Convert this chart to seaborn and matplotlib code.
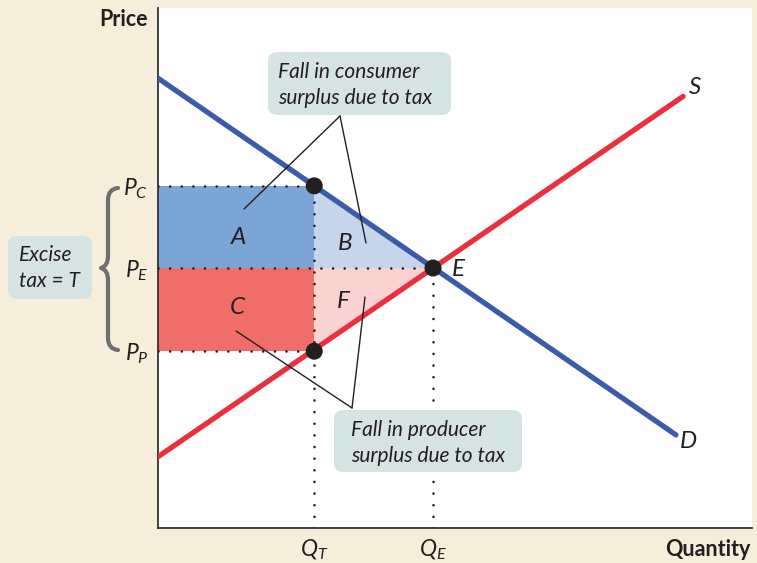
import numpy as np
import pandas as pd
import matplotlib
matplotlib.use("Agg")
import matplotlib.pyplot as plt
import seaborn as sns
from matplotlib.patches import FancyBboxPatch, PathPatch
from matplotlib.path import Path

# ---- data (economic units) ----
demand_q = [0.0, 87.2]
demand_p = [86.5, 17.9]
supply_q = [0.0, 88.4]
supply_p = [13.7, 83.0]
Q_T = 26.3
Q_E = 46.3
P_C = 65.8
P_E = 50.0
P_P = 34.0
area_labels = ["A", "B", "C", "F"]
price_ticks = [P_C, P_E, P_P]
price_labels = [r"$P_C$", r"$P_E$", r"$P_P$"]
qty_ticks = [Q_T, Q_E]
qty_labels = [r"$Q_T$", r"$Q_E$"]

sns.set_theme(style="white")
plt.rcParams["font.family"] = ["Lato", "DejaVu Sans"]
plt.rcParams["mathtext.fontset"] = "custom"
plt.rcParams["mathtext.it"] = "Lato:italic"
plt.rcParams["mathtext.rm"] = "Lato"

BEIGE = "#f6eddb"
BLUE = "#3b5ca9"
RED = "#ec2f3f"
TXT = "#231f20"
BOX = "#d5e4e2"

W, H = 757, 563
fig = plt.figure(figsize=(W / 100, H / 100), dpi=100, facecolor=BEIGE)
ax = fig.add_axes([158 / W, (H - 528) / H, 594 / W, 520 / H])
ax.set_facecolor("white")
ax.set_xlim(0, 100)
ax.set_ylim(0, 100)

def px(x, y):
    return (x / W, 1 - y / H)

# ---- areas ----
ax.fill_between([0, Q_T], P_E, P_C, color="#7ba4d7", lw=0, zorder=1)
ax.fill_between([0, Q_T], P_P, P_E, color="#f06e6a", lw=0, zorder=1)
ax.fill([Q_T, Q_T, Q_E], [P_C, P_E, P_E], color="#c6d4ec", lw=0, zorder=1)
ax.fill([Q_T, Q_T, Q_E], [P_P, P_E, P_E], color="#fad2d2", lw=0, zorder=1)

# ---- dotted guides ----
dot = dict(color=TXT, lw=1.9, ls=(0, (0.01, 4.4)), dash_capstyle="round",
           solid_capstyle="round", zorder=3)
ax.plot([0, Q_T], [P_C, P_C], **dot)
ax.plot([0, Q_T], [P_P, P_P], **dot)
ax.plot([0, Q_E], [P_E, P_E], **dot)
ax.plot([Q_T, Q_T], [0, P_C], **dot)
ax.plot([Q_E, Q_E], [0, P_E], **dot)

# ---- curves ----
sns.lineplot(x=demand_q, y=demand_p, color=BLUE, lw=3.8, ax=ax, zorder=4)
sns.lineplot(x=supply_q, y=supply_p, color=RED, lw=3.8, ax=ax, zorder=4)
pts = pd.DataFrame({"q": [Q_T, Q_T, Q_E], "p": [P_C, P_P, P_E]})
sns.scatterplot(data=pts, x="q", y="p", s=150, color=TXT, edgecolor="none", ax=ax, zorder=6)

# ---- spines/ticks ----
for s in ["top", "right"]:
    ax.spines[s].set_visible(False)
for s in ["left", "bottom"]:
    ax.spines[s].set_color("#333333")
    ax.spines[s].set_linewidth(1.3)
ax.set_xticks(qty_ticks)
ax.set_xticklabels(qty_labels, fontsize=16.5, color=TXT)
ax.set_yticks(price_ticks)
ax.set_yticklabels(price_labels, fontsize=16.5, color=TXT)
ax.tick_params(axis="y", length=0, pad=7)
ax.tick_params(axis="x", length=0, pad=7)
for t in ax.get_yticklabels():
    t.set_va("center_baseline")
ax.set_xlabel("")
ax.set_ylabel("")

fig.text(*px(148, 19), "Price", ha="right", va="center", fontsize=15.5, fontweight="bold", color=TXT)
fig.text(*px(751, 549), "Quantity", ha="right", va="center", fontsize=15.5, fontweight="bold", color=TXT)

# ---- curve labels ----
it = dict(fontstyle="italic", color=TXT, fontsize=17.5, va="center", ha="center")
fig.text(*px(695, 87), "S", **it)
fig.text(*px(688, 442), "D", **it)
fig.text(*px(458, 269), "E", **it)
for lab, (x, y) in zip(area_labels, [(238, 237), (345, 243), (237, 308), (343, 301)]):
    fig.text(*px(x, y), lab, **it)

# ---- callout boxes ----
def box(x0, y0, x1, y1):
    (fx0, fy1) = px(x0, y0)
    (fx1, fy0) = px(x1, y1)
    p = FancyBboxPatch((fx0, fy0), fx1 - fx0, fy1 - fy0,
                       boxstyle="round,pad=0,rounding_size=0.014",
                       transform=fig.transFigure, fc=BOX, ec="none", zorder=7)
    fig.add_artist(p)

cs = dict(fontstyle="italic", fontsize=15, color=TXT, va="center", ha="left", zorder=8)
box(268, 52, 451, 115)
fig.text(*px(278, 72), "Fall in consumer", **cs)
fig.text(*px(278, 98), "surplus due to tax", **cs)

box(334, 410, 522, 472)
fig.text(*px(351, 430), "Fall in producer", **cs)
fig.text(*px(351, 456), "surplus due to tax", **cs)

box(8, 236, 92, 299)
fig.text(*px(19, 255), "Excise", **cs)
fig.text(*px(19, 281), "tax = T", **cs)

# pointer lines
pl = dict(color=TXT, lw=1.0, transform=fig.transFigure, zorder=5)
for (a, b) in [((340, 116), (244, 209)), ((340, 116), (366, 243)),
               ((352, 408), (236, 331)), ((352, 408), (365, 297))]:
    (xa, ya), (xb, yb) = px(*a), px(*b)
    fig.add_artist(plt.Line2D([xa, xb], [ya, yb], **pl))

# brace
verts = [px(118, 188), px(108, 189), px(108, 200),
         px(108, 256),
         px(108, 266), px(101, 268),
         px(108, 270), px(108, 280),
         px(108, 338),
         px(108, 349), px(118, 350)]
codes = [Path.MOVETO, Path.CURVE3, Path.CURVE3,
         Path.LINETO,
         Path.CURVE3, Path.CURVE3,
         Path.CURVE3, Path.CURVE3,
         Path.LINETO,
         Path.CURVE3, Path.CURVE3]
fig.add_artist(PathPatch(Path(verts, codes), transform=fig.transFigure, fc="none",
                         ec="#6f6f6f", lw=3.0, capstyle="round", joinstyle="round"))

fig.savefig("out.png", dpi=100, facecolor=BEIGE)
